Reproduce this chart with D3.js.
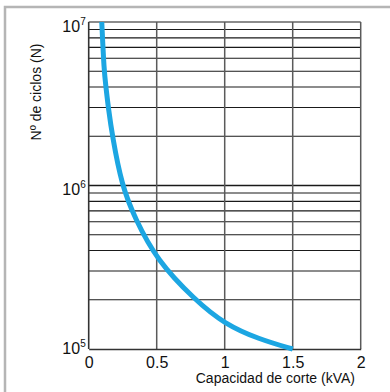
<!DOCTYPE html>
<html>
<head>
<meta charset="utf-8">
<script src="https://cdn.jsdelivr.net/npm/d3@7"></script>
<style>
  body { margin: 0; background: #fff; }
  text { font-family: "Liberation Sans", Arial, sans-serif; fill: #111; }
</style>
</head>
<body>
<div class="chart"></div>
<script>
const WIDTH = 390;
const HEIGHT = 392;

// curve: capacity (kVA) vs number of cycles
var capacity = [0.096, 0.113, 0.127, 0.144, 0.174, 0.243, 0.34, 0.5, 0.78, 1.0, 1.25, 1.5];
var cycles = [1e7, 5e6, 4e6, 3e6, 2e6, 1e6, 6.3e5, 3.5e5, 2e5, 1.42e5, 1.15e5, 1e5];

var xTicks = [0, 0.5, 1, 1.5, 2];
var xTickLabels = ['0', '0.5', '1', '1.5', '2'];
var yDecades = [5, 6, 7];
var xTitle = 'Capacidad de corte (kVA)';
var yTitle = 'Nº de ciclos (N)';

var xScale = d3.scaleLinear().domain([0, 2]).range([88.7, 360.7]);
var yScale = d3.scaleLog().domain([1e5, 1e7]).range([349, 22]);

var svg = d3.select('.chart').append('svg')
    .attr('width', WIDTH)
    .attr('height', HEIGHT);

// outer frame
svg.append('rect')
    .attr('x', 5).attr('y', 7)
    .attr('width', 420).attr('height', 420)
    .attr('fill', 'none')
    .attr('stroke', '#b5b5b5')
    .attr('stroke-width', 2.5);

// horizontal log grid
var hLines = [];
[1e5, 1e6].forEach(function (base) {
    for (var m = 2; m <= 10; m++) hLines.push(base * m);
});
svg.append('g').selectAll('line').data(hLines).join('line')
    .attr('x1', xScale(0)).attr('x2', xScale(2))
    .attr('y1', function (d) { return yScale(d); })
    .attr('y2', function (d) { return yScale(d); })
    .attr('stroke', function (d) { return d === 1e7 ? '#666' : '#1a1a1a'; })
    .attr('stroke-width', function (d) { return d === 1e7 || d === 1e6 ? 1.6 : 1.1; });

// vertical grid
svg.append('g').selectAll('line').data(xTicks.slice(1)).join('line')
    .attr('x1', function (d) { return xScale(d); })
    .attr('x2', function (d) { return xScale(d); })
    .attr('y1', yScale(1e7)).attr('y2', yScale(1e5))
    .attr('stroke', '#5a5a5a')
    .attr('stroke-width', 1.5);

// axes
var xAxis = d3.axisBottom(xScale).tickValues(xTicks).tickSize(0)
    .tickFormat(function (d, i) { return xTickLabels[i]; });
var xAxisG = svg.append('g').attr('transform', 'translate(0,' + yScale(1e5) + ')').call(xAxis);
xAxisG.select('.domain').attr('stroke', '#333').attr('stroke-width', 1.6);
xAxisG.selectAll('text').attr('font-size', 16).attr('dy', 0).attr('y', 19)
    .attr('font-family', '"Liberation Sans", Arial, sans-serif').attr('fill', '#111');

var yAxisG = svg.append('g').attr('transform', 'translate(' + xScale(0) + ',0)');
yAxisG.append('line')
    .attr('y1', yScale(1e7)).attr('y2', yScale(1e5))
    .attr('stroke', '#333').attr('stroke-width', 1.6);

var yLab = yAxisG.selectAll('text.ylab').data(yDecades).join('text')
    .attr('class', 'ylab')
    .attr('text-anchor', 'end')
    .attr('x', -3)
    .attr('y', function (d) { return yScale(Math.pow(10, d)) + (d === 5 ? 5 : 9.5); })
    .attr('font-size', 16);
yLab.append('tspan').text('10');
yLab.append('tspan').attr('font-size', 10).attr('dy', -7)
    .text(function (d) { return d; });

// curve
var line = d3.line()
    .x(function (d, i) { return xScale(capacity[i]); })
    .y(function (d) { return yScale(d); })
    .curve(d3.curveBasis);
svg.append('path')
    .attr('d', line(cycles))
    .attr('fill', 'none')
    .attr('stroke', '#1ca6e2')
    .attr('stroke-width', 5);

// titles
svg.append('text')
    .attr('x', 355).attr('y', 383)
    .attr('text-anchor', 'end')
    .attr('font-size', 14)
    .text(xTitle);
svg.append('text')
    .attr('transform', 'translate(41,92) rotate(-90)')
    .attr('text-anchor', 'middle')
    .attr('font-size', 14)
    .text(yTitle);
</script>
</body>
</html>
